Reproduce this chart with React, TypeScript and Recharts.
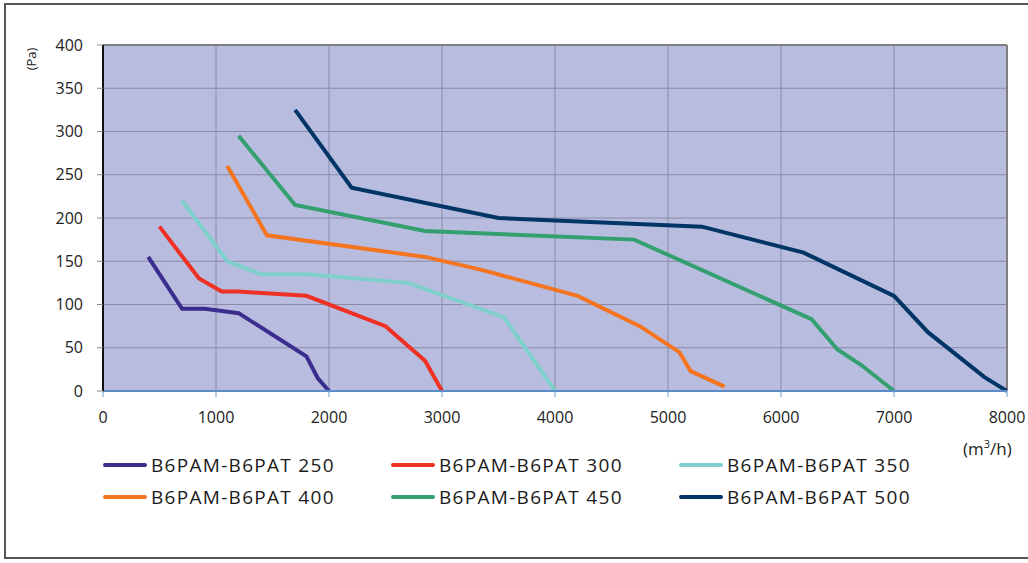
import React from 'react';
import { LineChart, Line, XAxis, YAxis, CartesianGrid, Legend, ReferenceLine } from 'recharts';

const FONT = '"Open Sans", "Noto Sans", sans-serif';

const xTicks = [0, 1000, 2000, 3000, 4000, 5000, 6000, 7000, 8000];
const yTicks = [0, 50, 100, 150, 200, 250, 300, 350, 400];

const seriesNames = [
  'B6PAM-B6PAT 250',
  'B6PAM-B6PAT 300',
  'B6PAM-B6PAT 350',
  'B6PAM-B6PAT 400',
  'B6PAM-B6PAT 450',
  'B6PAM-B6PAT 500',
];
const seriesColors = ['#3b2d8e', '#ee3124', '#7fd0cb', '#f47420', '#34a06f', '#003566'];

const s250 = [
  { x: 400, y: 155 }, { x: 700, y: 95 }, { x: 900, y: 95 }, { x: 1200, y: 90 },
  { x: 1800, y: 40 }, { x: 1900, y: 15 }, { x: 2000, y: 0 },
];
const s300 = [
  { x: 500, y: 190 }, { x: 850, y: 130 }, { x: 1050, y: 115 }, { x: 1200, y: 115 },
  { x: 1800, y: 110 }, { x: 2500, y: 75 }, { x: 2850, y: 35 }, { x: 3000, y: 0 },
];
const s350 = [
  { x: 700, y: 220 }, { x: 1100, y: 150 }, { x: 1400, y: 135 }, { x: 1800, y: 135 },
  { x: 2700, y: 125 }, { x: 3550, y: 85 }, { x: 4000, y: 0 },
];
const s400 = [
  { x: 1100, y: 260 }, { x: 1450, y: 180 }, { x: 2850, y: 155 }, { x: 3350, y: 140 },
  { x: 4200, y: 110 }, { x: 4750, y: 75 }, { x: 5100, y: 45 }, { x: 5200, y: 23 },
  { x: 5500, y: 5 },
];
const s450 = [
  { x: 1200, y: 295 }, { x: 1700, y: 215 }, { x: 2850, y: 185 }, { x: 4700, y: 175 },
  { x: 6270, y: 83 }, { x: 6500, y: 48 }, { x: 6710, y: 30 }, { x: 7000, y: 0 },
];
const s500 = [
  { x: 1700, y: 325 }, { x: 2200, y: 235 }, { x: 3500, y: 200 }, { x: 5300, y: 190 },
  { x: 6200, y: 160 }, { x: 7000, y: 110 }, { x: 7300, y: 68 }, { x: 7800, y: 16 },
  { x: 8000, y: 0 },
];
const seriesData = [s250, s300, s350, s400, s450, s500];

const renderLegend = () => (
  <div
    style={{
      display: 'grid',
      gridTemplateColumns: '288px 288px 300px',
      rowGap: 6,
      fontFamily: FONT,
      fontSize: 19,
      color: '#1a1a1a',
    }}
  >
    {seriesNames.map((n, i) => (
      <div key={n} style={{ display: 'flex', alignItems: 'center', height: 26 }}>
        <span
          style={{
            display: 'inline-block',
            width: 44,
            height: 4,
            borderRadius: 2,
            background: seriesColors[i],
            marginRight: 4,
          }}
        />
        <span style={{ letterSpacing: 1.3 }}>{n}</span>
      </div>
    ))}
  </div>
);

export default function App() {
  return (
    <div style={{ position: 'absolute', left: 0, top: 0, width: 1028, height: 563, background: '#fff' }}>
      <div
        style={{
          position: 'absolute',
          left: 4,
          top: 3,
          width: 1040,
          height: 556,
          border: '2px solid #555',
          boxSizing: 'border-box',
        }}
      />
      <div style={{ position: 'absolute', left: 0, top: 0 }}>
        <LineChart
          width={1028}
          height={563}
          margin={{ top: 45, right: 21, left: 43, bottom: 142 }}
        >
          <CartesianGrid fill="#b8bde0" stroke="#8a8aa6" strokeWidth={1} />
          <XAxis
            type="number"
            dataKey="x"
            domain={[0, 8000]}
            ticks={xTicks}
            allowDataOverflow
            height={30}
            stroke="#5b8cc8"
            strokeWidth={2}
            tickSize={6}
            tickMargin={15}
            tick={{ fill: '#222', fontSize: 16, fontFamily: FONT }}
            tickLine={{ stroke: '#6f9bd0', strokeWidth: 1 }}
          />
          <YAxis
            type="number"
            dataKey="y"
            domain={[0, 400]}
            ticks={yTicks}
            width={60}
            stroke="#111"
            strokeWidth={2}
            tickSize={6}
            tickMargin={14}
            tick={{ fill: '#222', fontSize: 16, fontFamily: FONT }}
            tickLine={{ stroke: '#888', strokeWidth: 1 }}
          />
          <ReferenceLine y={400} stroke="#7f7f7f" strokeWidth={2} ifOverflow="extendDomain" />
          <ReferenceLine x={8000} stroke="#7f7f7f" strokeWidth={2} ifOverflow="extendDomain" />
          <Legend
            layout="vertical"
            verticalAlign="middle"
            align="center"
            content={renderLegend}
            wrapperStyle={{ left: 103, top: 452, width: 900, height: 64 }}
          />
          {seriesData.map((d, i) => (
            <Line
              key={seriesNames[i]}
              data={d}
              dataKey="y"
              name={seriesNames[i]}
              type="linear"
              stroke={seriesColors[i]}
              strokeWidth={4}
              dot={false}
              activeDot={false}
              isAnimationActive={false}
            />
          ))}
        </LineChart>
      </div>
      <div
        style={{
          position: 'absolute',
          left: 22,
          top: 43,
          width: 18,
          height: 32,
          fontFamily: FONT,
          fontSize: 13,
          color: '#222',
          transform: 'rotate(-90deg)',
          transformOrigin: 'center',
          display: 'flex',
          alignItems: 'center',
          justifyContent: 'center',
          whiteSpace: 'nowrap',
        }}
      >
        (Pa)
      </div>
      <div
        style={{
          position: 'absolute',
          left: 963,
          top: 436,
          fontFamily: FONT,
          fontSize: 17,
          color: '#222',
          whiteSpace: 'nowrap',
        }}
      >
        (m<sup style={{ fontSize: 11 }}>3</sup>/h)
      </div>
    </div>
  );
}
